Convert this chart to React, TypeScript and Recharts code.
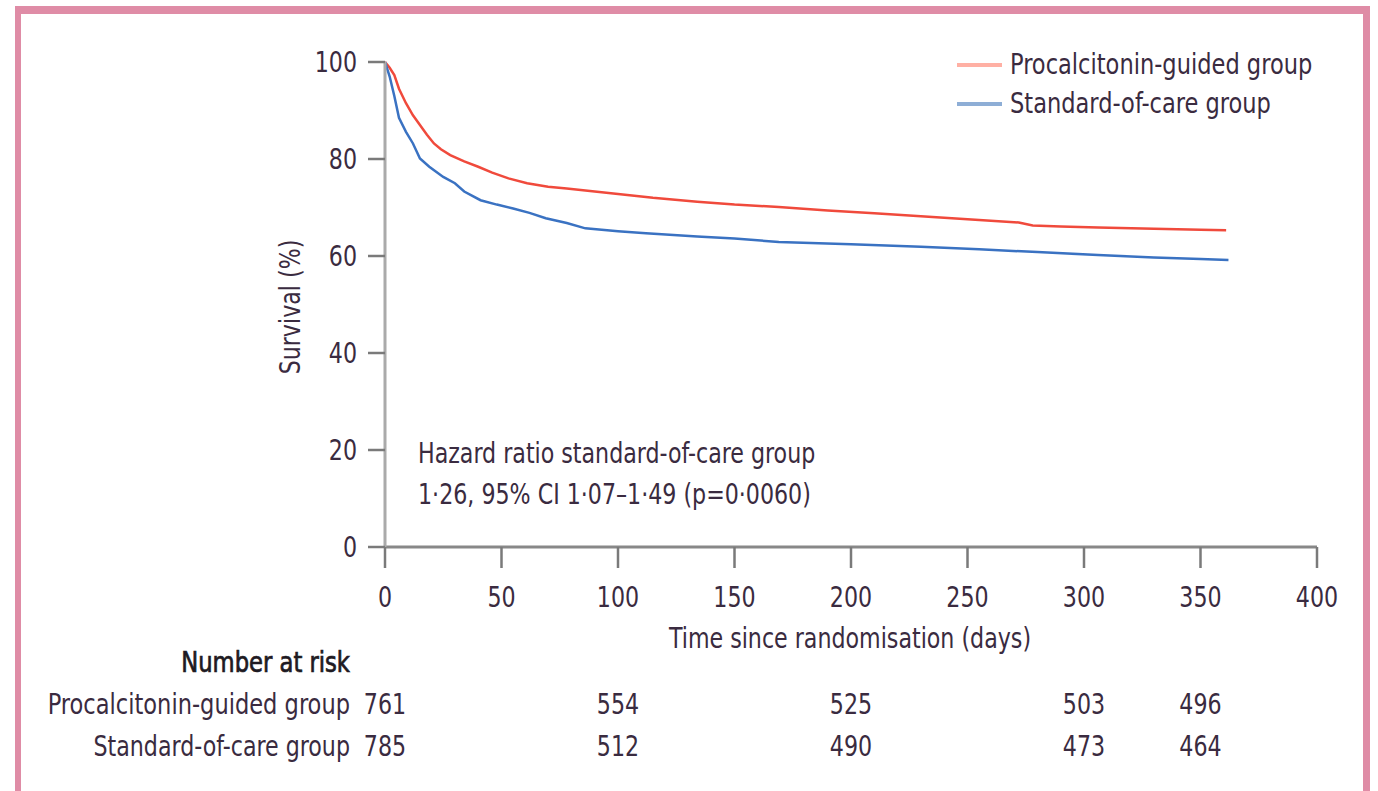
import React from "react";
import { LineChart, Line, XAxis, YAxis } from "recharts";

// ---- data ----
const pctDays = [0, 2, 4, 6, 9, 12, 15, 18, 21, 24, 28, 34, 40, 46, 53, 61, 70, 78, 88, 98, 115, 134, 150, 169, 190, 210, 230, 255, 272, 278, 290, 306, 330, 350, 361];
const pctSurvival = [100, 98.8, 97.3, 94.5, 91.5, 89, 87, 85, 83.2, 82, 80.8, 79.5, 78.4, 77.2, 76, 75, 74.3, 73.9, 73.4, 72.9, 72, 71.2, 70.6, 70.1, 69.4, 68.8, 68.2, 67.4, 66.9, 66.3, 66.1, 65.9, 65.6, 65.4, 65.3];

const socDays = [0, 2, 4, 6, 9, 12, 15, 19, 25, 30, 34, 41, 48, 55, 62, 69, 78, 86, 100, 112, 134, 150, 169, 200, 230, 255, 280, 306, 330, 350, 362];
const socSurvival = [100, 97, 93, 88.5, 85.6, 83.2, 80.1, 78.4, 76.3, 75, 73.3, 71.5, 70.6, 69.8, 68.9, 67.8, 66.8, 65.7, 65.1, 64.7, 64, 63.6, 62.9, 62.4, 61.9, 61.4, 60.8, 60.2, 59.7, 59.4, 59.2];

const xTicks = [0, 50, 100, 150, 200, 250, 300, 350, 400];
const yTicks = [0, 20, 40, 60, 80, 100];

const riskDays = [0, 100, 200, 300, 350];
const riskPct = [761, 554, 525, 503, 496];
const riskSoc = [785, 512, 490, 473, 464];

const seriesNames = ["Procalcitonin-guided group", "Standard-of-care group"];
const seriesColors = ["#f04a3c", "#3a72c2"];
const legendColors = ["#ffb0a4", "#8eaed6"];

const pctData = pctDays.map((d, i) => ({ day: d, value: pctSurvival[i] }));
const socData = socDays.map((d, i) => ({ day: d, value: socSurvival[i] }));

const FONT = "'DejaVu Sans Condensed', 'DejaVu Sans', sans-serif";
const FS = 28;
const SX = 0.88;
const TEXT = "#3a2b40";

type NTProps = { x: number; y: number; anchor?: "start" | "middle" | "end"; rotate?: number; children: React.ReactNode; fill?: string; stroke?: string; strokeWidth?: number; sx?: number };
const NText = ({ x, y, anchor = "start", rotate, children, fill = TEXT, stroke, strokeWidth, sx = SX }: NTProps) => (
  <text
    transform={`translate(${x} ${y})${rotate ? ` rotate(${rotate})` : ""} scale(${sx} 1)`}
    textAnchor={anchor}
    fontFamily={FONT}
    fontSize={FS}
    fill={fill}
    stroke={stroke}
    strokeWidth={strokeWidth}
  >
    {children}
  </text>
);

const XTick = (props: any) => {
  const { x, y, payload } = props;
  const v = payload.value as number;
  const idx = riskDays.indexOf(v);
  return (
    <g>
      <NText x={x} y={y + 21} anchor="middle">{String(v)}</NText>
      {idx >= 0 && <NText x={x} y={y + 128} anchor="middle">{String(riskPct[idx])}</NText>}
      {idx >= 0 && <NText x={x} y={y + 170} anchor="middle">{String(riskSoc[idx])}</NText>}
    </g>
  );
};

const YTick = (props: any) => {
  const { x, y, payload } = props;
  return <NText x={x} y={y + 10} anchor="end">{String(payload.value)}</NText>;
};

export default function App() {
  return (
    <div style={{ position: "absolute", left: 0, top: 0, width: 1378, height: 791, background: "#fff", overflow: "hidden" }}>
      {/* frame */}
      <div style={{ position: "absolute", left: 15, top: 6, width: 1355, height: 820, boxSizing: "border-box", borderTop: "8px solid #df8ca6", borderLeft: "6px solid #df8ca6", borderRight: "7px solid #df8ca6" }} />
      <div style={{ position: "absolute", left: 0, top: 0 }}>
        <LineChart width={1378} height={791} margin={{ top: 62, right: 61, left: 325, bottom: 138 }}>
          <XAxis
            xAxisId="main"
            dataKey="day"
            type="number"
            domain={[0, 400]}
            ticks={xTicks}
            allowDataOverflow
            height={106}
            tickSize={21}
            tickMargin={18}
            interval={0}
            axisLine={{ stroke: "#888", strokeWidth: 3 }}
            tickLine={{ stroke: "#7a7a7a", strokeWidth: 2.5 }}
            tick={<XTick />}
          />
          <YAxis
            type="number"
            domain={[0, 100]}
            ticks={yTicks}
            width={60}
            tickSize={17}
            tickMargin={11}
            interval={0}
            axisLine={{ stroke: "#aaa", strokeWidth: 3 }}
            tickLine={{ stroke: "#7a7a7a", strokeWidth: 2.5 }}
            tick={<YTick />}
          />
          <Line xAxisId="main" data={pctData} dataKey="value" name={seriesNames[0]} type="linear" stroke={seriesColors[0]} strokeWidth={2.5} dot={false} isAnimationActive={false} />
          <Line xAxisId="main" data={socData} dataKey="value" name={seriesNames[1]} type="linear" stroke={seriesColors[1]} strokeWidth={2.5} dot={false} isAnimationActive={false} />
        </LineChart>
      </div>
      {/* legend and annotations */}
      <svg width={1378} height={791} style={{ position: "absolute", left: 0, top: 0, pointerEvents: "none" }}>
        {seriesNames.map((n, i) => (
          <g key={n}>
            <line x1={957} x2={1002} y1={65 + i * 39} y2={65 + i * 39} stroke={legendColors[i]} strokeWidth={4} />
            <NText x={1010} y={74 + i * 39} sx={0.895}>{n}</NText>
          </g>
        ))}
        <NText x={300} y={307} rotate={-90} anchor="middle">Survival (%)</NText>
        <NText x={850} y={648} anchor="middle">Time since randomisation (days)</NText>
        <NText x={418} y={463}>Hazard ratio standard-of-care group</NText>
        <NText x={418} y={504}>1·26, 95% CI 1·07–1·49 (p=0·0060)</NText>
        <NText x={350} y={672} anchor="end" fill="#1e1a22" stroke="#1e1a22" strokeWidth={0.7} sx={0.9}>Number at risk</NText>
        <NText x={350} y={714} anchor="end" sx={0.895}>Procalcitonin-guided group</NText>
        <NText x={350} y={756} anchor="end">Standard-of-care group</NText>
      </svg>
    </div>
  );
}
